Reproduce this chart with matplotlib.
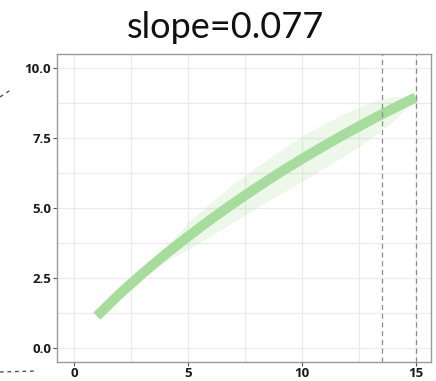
import matplotlib.pyplot as plt
from matplotlib.lines import Line2D
from matplotlib.ticker import MultipleLocator, FuncFormatter

# values
x = [1, 2, 3, 4, 5, 6, 7, 8, 9, 10, 11, 12, 13, 14, 15]
y = [1.14, 1.93, 2.66, 3.34, 3.98, 4.59, 5.17, 5.72, 6.25, 6.75, 7.23, 7.69, 8.13, 8.55, 8.95]
band_lo = [1.14, 1.90, 2.58, 3.10, 3.52, 4.00, 4.50, 5.00, 5.48, 5.95, 6.43, 6.93, 7.47, 8.08, 8.90]
band_hi = [1.14, 1.96, 2.74, 3.60, 4.48, 5.20, 5.86, 6.46, 7.03, 7.57, 8.02, 8.42, 8.77, 8.98, 9.00]
vlines = [13.5, 15]
title = 'slope=0.077'

green = '#a6dc9c'

plt.rcParams['font.family'] = ['Open Sans', 'DejaVu Sans']
plt.rcParams['font.weight'] = 'bold'

fig = plt.figure(figsize=(4.36, 3.81), dpi=100)
ax = fig.add_axes([57 / 436, 1 - 362 / 381, (431 - 57) / 436, (362 - 54) / 381])

ax.fill_between(x, band_lo, band_hi, color=green, alpha=0.2, lw=0)
ax.plot(x, y, color=green, lw=7.2, solid_capstyle='butt', solid_joinstyle='round')
for v in vlines:
    ax.axvline(v, color='#8a8a8a', ls=(0, (4, 3)), lw=0.9)

ax.set_xlim(-0.75, 15.67)
ax.set_ylim(-0.5, 10.5)
ax.xaxis.set_major_locator(MultipleLocator(5))
ax.xaxis.set_minor_locator(MultipleLocator(2.5))
ax.yaxis.set_major_locator(MultipleLocator(2.5))
ax.yaxis.set_minor_locator(MultipleLocator(1.25))
ax.xaxis.set_major_formatter(FuncFormatter(lambda v, p: f'{v:g}'))
ax.yaxis.set_major_formatter(FuncFormatter(lambda v, p: f'{v:.1f}'))
ax.grid(True, which='both', color='#ebebeb', lw=0.9)
ax.set_axisbelow(True)
ax.tick_params(which='minor', length=0)
ax.tick_params(which='major', length=3, width=0.8, pad=1.2, color='#555555',
               labelcolor='#1a1a1a', labelsize=9.5)
ax.tick_params(axis='x', pad=0.5)
for s in ax.spines.values():
    s.set_color('#9a9a9a')
    s.set_linewidth(1.0)

fig.text(225 / 436, 1 - 38 / 381, title, ha='center', va='baseline',
         fontsize=26, family='Lato', fontweight='normal', color='#111111')

# bits of neighbouring dashed lines cut at the left edge
fig.add_artist(Line2D([0 / 436, 12 / 436], [1 - 97 / 381, 1 - 89 / 381],
                      transform=fig.transFigure, color='#444444', ls=(0, (3, 3)), lw=0.9))
fig.add_artist(Line2D([0 / 436, 35 / 436], [1 - 372 / 381, 1 - 371 / 381],
                      transform=fig.transFigure, color='#444444', ls=(0, (3, 3)), lw=0.9))

fig.savefig('out.png', dpi=100)
